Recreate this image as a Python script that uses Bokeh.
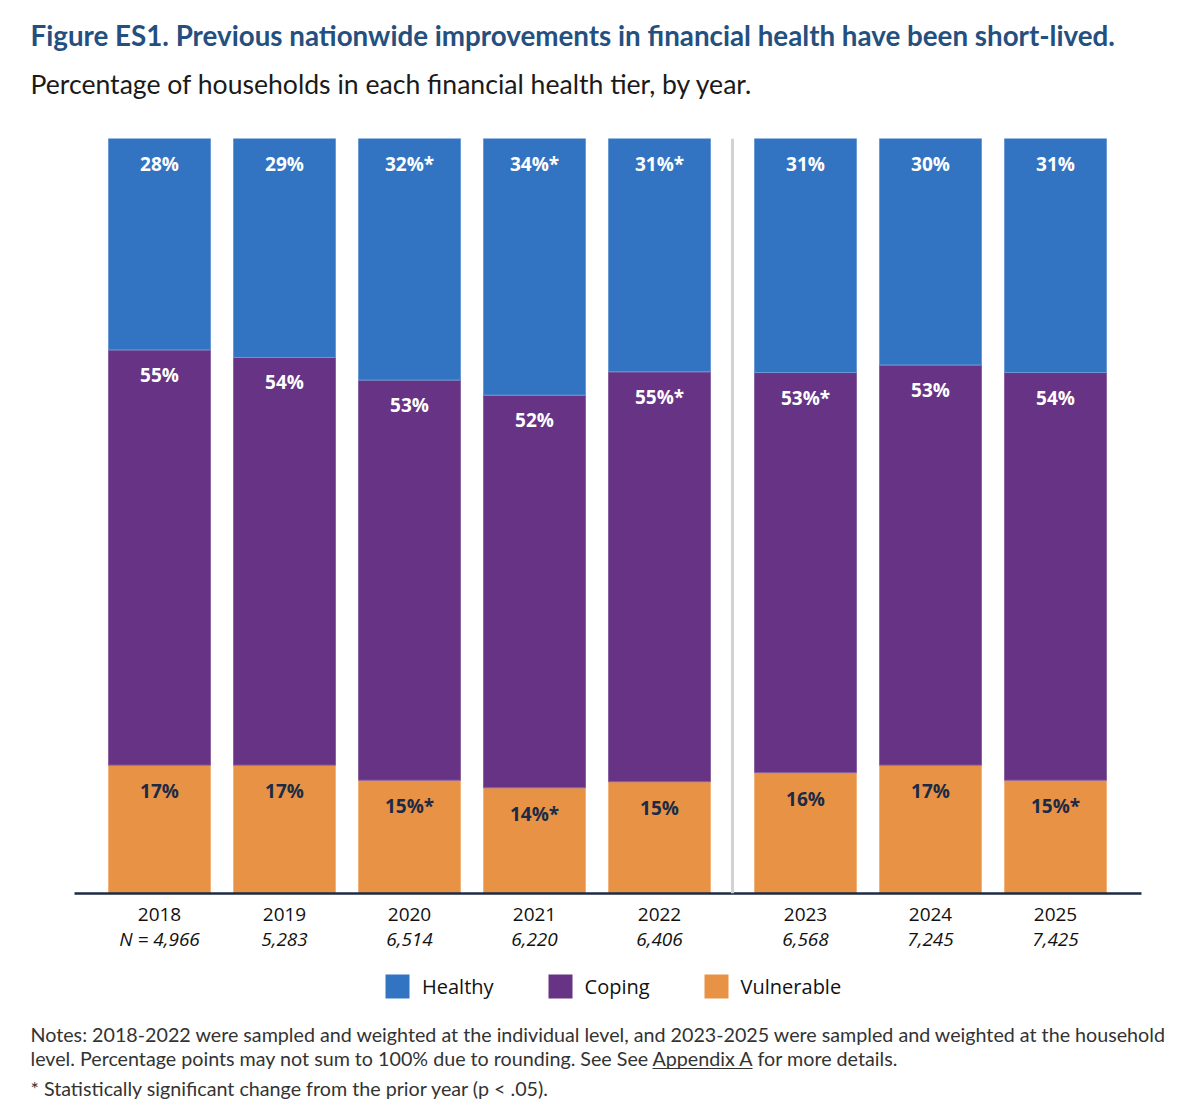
from bokeh.plotting import figure
from bokeh.layouts import column
from bokeh.models import (ColumnDataSource, Legend, LegendItem, LinearAxis, Label,
                          FixedTicker, Span, Range1d, CustomJSTickFormatter)
from bokeh.core.properties import value
from bokeh.embed import file_html
from bokeh.resources import INLINE

# ---- data ----
years = ["2018", "2019", "2020", "2021", "2022", "2023", "2024", "2025"]
sample_n = ["N = 4,966", "5,283", "6,514", "6,220", "6,406", "6,568", "7,245", "7,425"]
vulnerable = [17, 17, 15, 14, 14.8, 16, 17, 15]
coping = [55, 54, 53, 52, 54.3, 53, 53, 54]
healthy = [28, 29, 32, 34, 30.9, 31, 30, 31]
vulnerable_labels = ["17%", "17%", "15%*", "14%*", "15%", "16%", "17%", "15%*"]
coping_labels = ["55%", "54%", "53%", "52%", "55%*", "53%*", "53%", "54%"]
healthy_labels = ["28%", "29%", "32%*", "34%*", "31%*", "31%", "30%", "31%"]
tiers = ["Healthy", "Coping", "Vulnerable"]
first_household_year = "2023"

title_text = "Figure ES1. Previous nationwide improvements in financial health have been short-lived."
subtitle_text = "Percentage of households in each financial health tier, by year."
note_line1 = "Notes: 2018-2022 were sampled and weighted at the individual level, and 2023-2025 were sampled and weighted at the household"
note_line2_a = "level. Percentage points may not sum to 100% due to rounding. See See"
note_link = "Appendix A"
note_line2_b = "for more details."
note_line3 = "* Statistically significant change from the prior year (p < .05)."

# ---- style ----
C_HEALTHY = "#3274c2"
C_COPING = "#673384"
C_VULN = "#e89245"
NAVY = "#1c2b45"
TITLE_C = "#24507f"
W = 1188
H_HEAD, H_MAIN, H_FOOT = 138, 820, 146
BOTTOM = 65
UNIT_PX = 125.0      # pixels per bar slot
FIRST_BAR_PX = 159.0  # centre of the first bar from the left edge


def blank(height):
    f = figure(width=W, height=height, output_backend="svg", toolbar_location=None,
               x_range=Range1d(0, W), y_range=Range1d(height, 0),
               x_axis_location=None, y_axis_location=None,
               min_border=0, min_border_left=0, min_border_right=0,
               min_border_top=0, min_border_bottom=0)
    f.outline_line_color = None
    f.grid.visible = False
    f.background_fill_color = "white"
    f.border_fill_color = "white"
    return f


# ---- header ----
head = blank(H_HEAD)
head.add_layout(Label(x=30, y=35, text=title_text, text_baseline="middle",
                      text_font="Lato", text_font_size="27.75px", text_font_style="bold",
                      text_color=TITLE_C))
head.add_layout(Label(x=30, y=83, text=subtitle_text, text_baseline="middle",
                      text_font="Lato", text_font_size="26.6px", text_color="#1a1a1a"))

# ---- main chart ----
gap = 0.168
split = years.index(first_household_year)
xs = [i + (gap if i >= split else 0.0) for i in range(len(years))]

v_top = vulnerable[:]
c_top = [v + c for v, c in zip(vulnerable, coping)]
h_top = [v + c + h for v, c, h in zip(vulnerable, coping, healthy)]

src = ColumnDataSource(dict(x=xs, vulnerable=vulnerable, coping=coping, healthy=healthy,
                            v_top=v_top, c_top=c_top, h_top=h_top,
                            vl=vulnerable_labels, cl=coping_labels, hl=healthy_labels))

x_start = -FIRST_BAR_PX / UNIT_PX
x_end = x_start + W / UNIT_PX
p = figure(width=W, height=H_MAIN, output_backend="svg", toolbar_location=None,
           x_range=Range1d(x_start, x_end), y_range=Range1d(0, 100),
           y_axis_location=None, min_border_left=0, min_border_right=0,
           min_border_top=0, min_border_bottom=BOTTOM)
p.outline_line_color = None
p.xgrid.visible = False
p.ygrid.visible = False
p.background_fill_color = "white"
p.border_fill_color = "white"

p.vbar_stack(["vulnerable", "coping", "healthy"], x="x", width=0.816, source=src,
             fill_color=[C_VULN, C_COPING, C_HEALTHY],
             line_color=["#f2b27a", "#8a62a3", "#6a9ad4"], line_width=1)

p.add_layout(Span(location=(xs[split - 1] + xs[split]) / 2, dimension="height",
                  line_color="#d2d2d2", line_width=3))

lbl_font = value("Open Sans")
for ycol, tcol, color, off in (("h_top", "hl", "white", 25), ("c_top", "cl", "white", 25),
                               ("v_top", "vl", NAVY, 26)):
    p.text(x="x", y=ycol, text=tcol, source=src, text_align="center", text_baseline="middle",
           y_offset=off, text_color=color, text_font=lbl_font, text_font_size="19px",
           text_font_style="bold")

code = """
let k = 0;
for (let i = 0; i < xs.length; i++) { if (Math.abs(xs[i] - tick) < 1e-6) { k = i; } }
return labels[k];
"""
ax = p.xaxis[0]
ax.ticker = FixedTicker(ticks=xs)
ax.formatter = CustomJSTickFormatter(args=dict(xs=xs, labels=years), code=code)
ax.bounds = (-0.68, xs[-1] + 0.688)
ax.axis_line_color = NAVY
ax.axis_line_width = 2.5
ax.major_tick_line_color = None
ax.minor_tick_line_color = None
ax.major_tick_out = 0
ax.major_tick_in = 0
ax.major_label_standoff = 14
ax.major_label_text_font = "Open Sans"
ax.major_label_text_font_size = "19px"
ax.major_label_text_color = "#111111"

ax2 = LinearAxis(ticker=FixedTicker(ticks=xs),
                 formatter=CustomJSTickFormatter(args=dict(xs=xs, labels=sample_n), code=code))
ax2.axis_line_color = None
ax2.major_tick_line_color = None
ax2.minor_tick_line_color = None
ax2.major_tick_out = 0
ax2.major_tick_in = 0
ax2.major_label_standoff = 2
ax2.major_label_text_font = "Open Sans"
ax2.major_label_text_font_size = "19px"
ax2.major_label_text_font_style = "italic"
ax2.major_label_text_color = "#111111"
p.add_layout(ax2, "below")

# ---- footer: legend + notes ----
foot = blank(H_FOOT)
swatch_src = ColumnDataSource(dict(x=[0], top=[0]))
swatches = [foot.vbar(x="x", top="top", bottom=0, width=0, source=swatch_src,
                      fill_color=c, line_color=c, line_alpha=0)
            for c in (C_HEALTHY, C_COPING, C_VULN)]
legend = Legend(items=[LegendItem(label=t, renderers=[r]) for t, r in zip(tiers, swatches)],
                orientation="horizontal", location=(382, H_FOOT - 43),
                glyph_width=30, glyph_height=30, label_standoff=10, spacing=51,
                label_text_font="Open Sans", label_text_font_size="20px",
                label_text_color="#111111", border_line_color=None,
                background_fill_alpha=0, margin=0, padding=6)
foot.add_layout(legend, "center")

note_kw = dict(text_baseline="middle", text_font="Lato", text_font_size="19.7px",
               text_color="#333333")
foot.add_layout(Label(x=30, y=76, text=note_line1, **note_kw))
foot.add_layout(Label(x=30, y=100, text=note_line2_a, **note_kw))
foot.add_layout(Label(x=652, y=100, text=note_link, **note_kw))
foot.add_layout(Label(x=757, y=100, text=note_line2_b, **note_kw))
foot.segment(x0=[652], x1=[752], y0=[110], y1=[110], line_color="#333333", line_width=1)
foot.add_layout(Label(x=30, y=130, text=note_line3, **note_kw))

layout = column(head, p, foot, spacing=0)
open("out.html", "w").write(file_html(layout, INLINE))
